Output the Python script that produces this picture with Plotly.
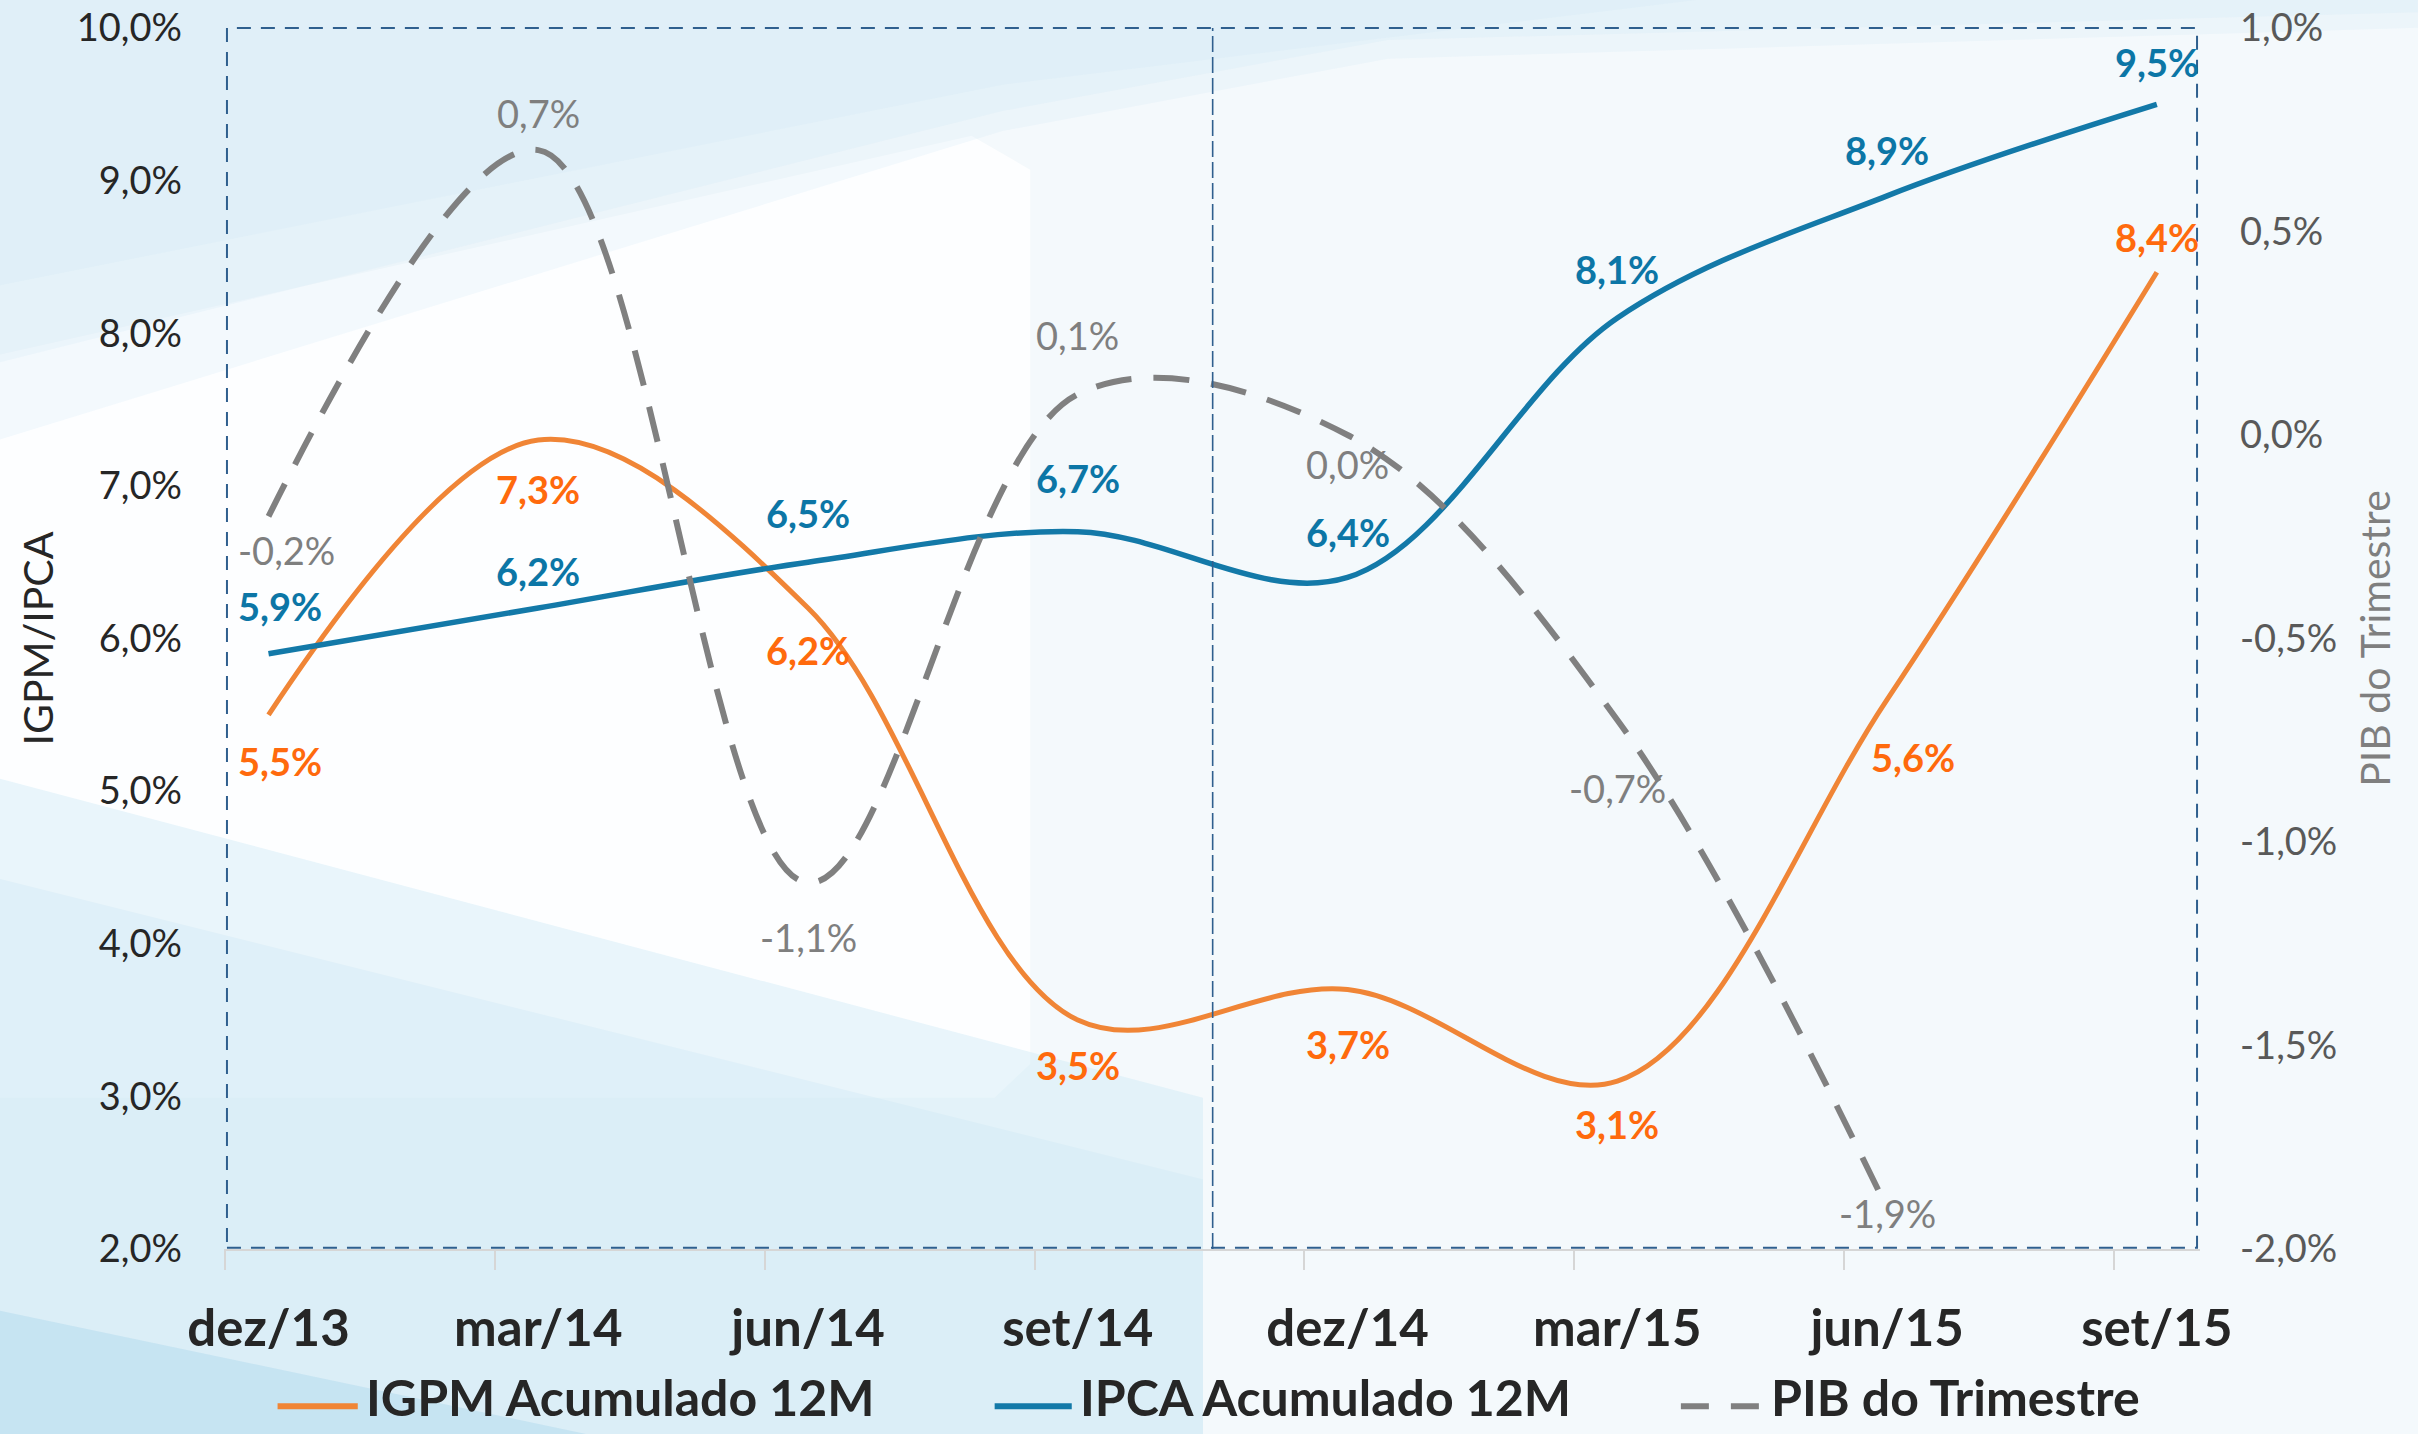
import plotly.graph_objects as go

# ---------------- data ----------------
categories = ["dez/13", "mar/14", "jun/14", "set/14", "dez/14", "mar/15", "jun/15", "set/15"]
igpm = [5.5, 7.3, 6.2, 3.5, 3.7, 3.1, 5.6, 8.4]
ipca = [5.9, 6.2, 6.5, 6.7, 6.4, 8.1, 8.9, 9.5]
pib = [-0.2, 0.7, -1.1, 0.1, 0.0, -0.7, -1.9]

series_names = ["IGPM Acumulado 12M", "IPCA Acumulado 12M", "PIB do Trimestre"]
left_ticks = [2.0, 3.0, 4.0, 5.0, 6.0, 7.0, 8.0, 9.0, 10.0]
right_ticks = [-2.0, -1.5, -1.0, -0.5, 0.0, 0.5, 1.0]

# label offsets (px) relative to each point
igpm_dy = [-46, -49, -42, -45, -54, -43, -57, 35]
igpm_dx = [11, 0, 0, 0, 0, 0, 26, 0]
ipca_dy = [48, 37, 49, 54, 45, 49, 46, 42]
ipca_dx = [11, 0, 0, 0, 0, 0, 0, 0]
pib_dy = [-34, 37, -54, 59, -29, -68, -5]
pib_dx = [18, 0, 0, 0, 0, 0, 0]

# ---------------- style ----------------
W, H = 2418, 1434
ML, MR, MT, MB = 224, 218, 28, 185
PW, PH = W - ML - MR, H - MT - MB
SX, SY = W / 1568, H / 930

C_IGPM, C_IGPM_T = "#F08536", "#FF6A0D"
C_IPCA, C_IPCA_T = "#1379A8", "#0C76A6"
C_PIB, C_PIB_T = "#808080", "#7F7F7F"
BOX = "#2F5F8E"
SANS = "Lato, Open Sans, sans-serif"


def fmt(v):
    return f"{v:.1f}".replace(".", ",") + "%"


def px(xs):  # reference-thumbnail x pixel -> paper x
    return (xs * SX - ML) / PW


def py(ys):  # reference-thumbnail y pixel -> paper y
    return (H - MB - ys * SY) / PH


def poly(pts):
    return "M " + " L ".join(f"{px(a):.4f},{py(b):.4f}" for a, b in pts) + " Z"


xi = list(range(len(categories)))

fig = go.Figure()
fig.add_trace(go.Scatter(x=xi, y=igpm, name=series_names[0], mode="lines",
                         line=dict(color=C_IGPM, width=5, shape="spline", smoothing=1.0),
                         showlegend=False))
fig.add_trace(go.Scatter(x=xi, y=ipca, name=series_names[1], mode="lines",
                         line=dict(color=C_IPCA, width=5.5, shape="spline", smoothing=1.0),
                         showlegend=False))
fig.add_trace(go.Scatter(x=xi[:len(pib)], y=pib, name=series_names[2], mode="lines", yaxis="y2",
                         line=dict(color=C_PIB, width=6, shape="spline", smoothing=1.0,
                                   dash="36px,22px"),
                         showlegend=False))

annotations = []
for i, v in enumerate(igpm):
    annotations.append(dict(x=i, y=v, xref="x", yref="y", text=fmt(v), showarrow=False,
                            xshift=igpm_dx[i], yshift=igpm_dy[i],
                            font=dict(family=SANS, size=38, color=C_IGPM_T, weight="bold")))
for i, v in enumerate(ipca):
    annotations.append(dict(x=i, y=v, xref="x", yref="y", text=fmt(v), showarrow=False,
                            xshift=ipca_dx[i], yshift=ipca_dy[i],
                            font=dict(family=SANS, size=38, color=C_IPCA_T, weight="bold")))
for i, v in enumerate(pib):
    annotations.append(dict(x=i, y=v, xref="x", yref="y2", text=fmt(v), showarrow=False,
                            xshift=pib_dx[i], yshift=pib_dy[i],
                            font=dict(family=SANS, size=38, color=C_PIB_T)))

shapes = []


def bg(pts, color):
    shapes.append(dict(type="path", xref="paper", yref="paper", layer="below",
                       line=dict(width=0), fillcolor=color, path=poly(pts)))


# background decoration (soft panels)
bg([(0, 230), (630, 88), (668, 110), (668, 690), (645, 712), (0, 712)], "rgba(255,255,255,0.8)")
bg([(0, 0), (1568, 0), (1568, 18), (900, 38), (650, 85), (0, 285)], "rgba(206,232,245,0.2)")
bg([(0, 0), (1568, 0), (1568, 8), (900, 26), (650, 72), (0, 235)], "rgba(206,232,245,0.2)")
bg([(0, 0), (1100, 0), (650, 55), (0, 185)], "rgba(206,232,245,0.2)")
bg([(0, 505), (780, 712), (780, 930), (0, 930)], "rgba(196,228,243,0.35)")
bg([(0, 570), (780, 765), (780, 930), (0, 930)], "rgba(196,228,243,0.25)")
bg([(0, 850), (380, 930), (0, 930)], "rgba(168,213,236,0.4)")

# manual legend
leg_y = py(906)
leg_items = [
    (180, 232, 237, C_IGPM, "solid", series_names[0]),
    (645, 695, 700, C_IPCA, "solid", series_names[1]),
    (1090, 1142, 1148, C_PIB, "28px,22px", series_names[2]),
]
for x0, x1, xt, col, dash, name in leg_items:
    shapes.append(dict(type="line", xref="paper", yref="paper", x0=px(x0), x1=px(x1),
                       y0=py(912), y1=py(912), line=dict(color=col, width=6, dash=dash)))
    annotations.append(dict(x=px(xt), y=leg_y, xref="paper", yref="paper", text=name,
                            showarrow=False, xanchor="left", yanchor="middle", borderpad=0,
                            font=dict(family=SANS, size=50, color="#262626", weight="bold")))

# dashed frame + separator
shapes.append(dict(type="rect", xref="paper", yref="paper", x0=0.0015, x1=0.9985, y0=0.001, y1=1.0,
                   line=dict(color=BOX, width=2, dash="14px,10px")))
shapes.append(dict(type="line", xref="x", yref="paper", x0=3.5, x1=3.5, y0=0, y1=1,
                   line=dict(color=BOX, width=1.6, dash="16px,5px")))

fig.update_layout(
    width=W, height=H,
    margin=dict(l=ML, r=MR, t=MT, b=MB, pad=0, autoexpand=False),
    paper_bgcolor="#F4F9FC",
    plot_bgcolor="rgba(0,0,0,0)",
    showlegend=False,
    shapes=shapes,
    annotations=annotations,
    xaxis=dict(range=[-0.165, 7.16], tickmode="array", tickvals=xi, ticktext=categories,
               ticks="", showgrid=False, zeroline=False, showline=True, linecolor="#D6D6D6",
               linewidth=2, automargin=False, ticklabelstandoff=34,
               tickfont=dict(family=SANS, size=51, color="#262626", weight="bold"),
               minor=dict(tickmode="linear", tick0=-0.16, dtick=1, ticks="outside",
                          ticklen=19, tickwidth=2, tickcolor="#D6D6D6", showgrid=False)),
    yaxis=dict(range=[2, 10], tickmode="array", tickvals=left_ticks,
               ticktext=[fmt(t) for t in left_ticks], ticks="",
               showgrid=False, zeroline=False, showline=False, automargin=False,
               ticklabelstandoff=41,
               tickfont=dict(family=SANS, size=38, color="#262626"),
               title=dict(text="IGPM/IPCA", standoff=10,
                          font=dict(family=SANS, size=41, color="#262626"))),
    yaxis2=dict(range=[-2, 1], tickmode="array", tickvals=right_ticks,
                ticktext=[fmt(t) for t in right_ticks], ticks="",
                overlaying="y", side="right", showgrid=False, zeroline=False, showline=False,
                automargin=False, ticklabelstandoff=39,
                tickfont=dict(family=SANS, size=38, color="#595959"),
                title=dict(text="PIB do Trimestre", standoff=25,
                           font=dict(family=SANS, size=41, color="#7F7F7F"))),
)

fig.write_html("out.html", config={"displayModeBar": False},
               post_script="document.body.style.margin='0';document.body.style.overflow='hidden';")
